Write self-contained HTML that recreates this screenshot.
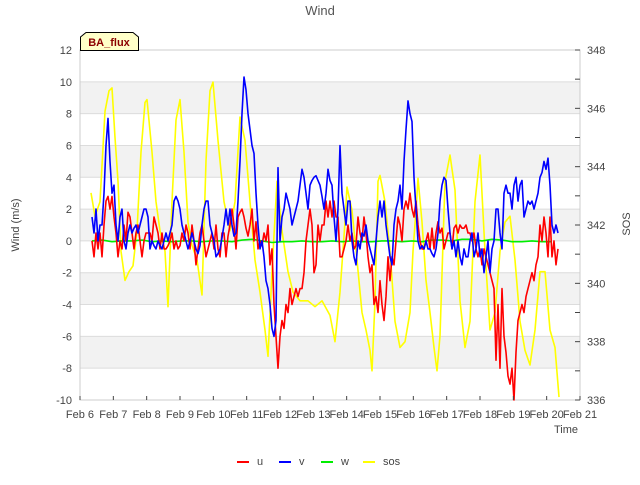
<!DOCTYPE html>
<html><head><meta charset="utf-8"><style>
body{margin:0;background:#fff;}
svg text{font-family:"Liberation Sans",sans-serif;}
</style></head><body>
<svg id="chart" width="640" height="480" xmlns="http://www.w3.org/2000/svg">
<text x="320" y="15" text-anchor="middle" font-size="13" fill="#555">Wind</text>
<g id="bands"></g>
<rect x="80" y="50" width="500" height="350" fill="none" stroke="#ccc"/>
<g id="series"></g>
<g id="axes"></g>
<text x="19" y="225" transform="rotate(-90 19 225)" text-anchor="middle" font-size="11" fill="#444">Wind (m/s)</text>
<text x="630" y="224" transform="rotate(-90 630 224)" text-anchor="middle" font-size="11" fill="#444">SOS</text>
<text x="578" y="433" text-anchor="end" font-size="11" fill="#444">Time</text>
<g>
<path d="M80.5,50.5 V37 L86,32.5 H133 L138.5,37 V50.5 Z" fill="#ffffc8" stroke="#000"/>
<text x="109" y="46" text-anchor="middle" font-size="11" font-weight="bold" fill="#8b0000">BA_flux</text>
</g>
<g id="legend"></g>
</svg>
<script>
const uStart = 6.36, uStep = 0.06;
const uVals = [0,-1,0.5,-0.5,0.5,-1,1,2.5,2.8,2,2.8,1.5,0.5,-1,0,-0.5,1,0,1.8,1.5,0.5,-0.5,0.5,1,0,-1,0,0.5,0.5,0.5,0,1.5,1,0.5,-0.5,0.5,-0.5,-0.5,-0.3,0,0.5,-0.5,0,-0.5,-0.3,0.5,0,1,0.5,-0.5,1,0,-1.5,-0.5,0.5,1,0,-1,-0.5,0,0.5,-0.5,1,-0.5,-1,0.5,0.5,-1,0.3,1,2,1,-0.5,1.5,1.8,2,1.5,0.8,0.3,1,2,0,1.2,-0.5,0,-0.3,0.5,0,1,-1.5,-0.5,-4,-6,-8,-6,-5,-5.5,-4,-4.5,-3,-4,-3.5,-3,-3.5,-3,-3,-2,0,1,2,1,-2,-1.5,1,0,1,1,2.5,1.5,2.5,1.5,2.5,1.5,1.5,-1,-1,-0.5,0,1,0,0.5,-0.5,-0.3,1.5,0.5,0,1.5,0.5,-1,-2,-1.5,-4,-3.5,-4.5,-2.5,-4,-5,-3.5,-1,-2.5,-1,-1.5,0,1.5,1,0,2,2.5,2,3,2,1.5,2.5,1,0,-0.5,-0.5,0,0.5,-0.5,0.8,-0.5,0.5,1.2,0.5,0.8,-0.5,0,0.5,0.5,-0.5,0.8,1,0.5,1,0.8,0.8,1,0.5,0.5,0,0.5,-0.5,-1,-0.5,-1.5,-0.5,-1,-1.5,-2,-2.5,-3,-7.5,-4,-8,-3,-6,-7,-8.5,-9,-8,-10,-7,-5,-4.5,-4,-4.5,-3.5,-3,-2.5,-2,-2.5,-1.5,-1,1,0,1.5,0.5,-1,1.5,-1,0,-1.5,-0.5];
const vStart = 6.36, vStep = 0.06;
const vVals = [1.5,0.5,2,0,1,1,3,6,7.7,5,3,3.5,1,0,1.5,2,0,-0.5,0.5,1,0.5,0.8,1,0.5,1,1.5,2,2,1.5,-0.5,0,-0.3,-0.5,0,-0.3,-0.5,0,0.5,0,0.5,1,2.5,2.8,2.5,2,1,0.5,0,-0.5,0,0.5,0,-0.5,-0.8,-0.3,1,2,2.5,2.5,1,0.5,0,-1,-0.8,-0.5,0.2,1,2,1,2,1,0.3,0.5,2.5,5,8,10.3,9.5,8,7,6,5.5,3,1,-0.5,0,-1,-2.5,-3,-4,-5.5,-6,-5,4.6,0,1.5,2,3,2.5,2,1,1.5,2,2.5,3.5,4.5,4,3,2,3.5,3.8,4,4.1,3.8,3.5,2.8,2,3,4.5,3.8,3.5,1.5,0,2,6,3,2,1,2.5,2.5,0,-1,-1.5,0,-0.5,0.5,0.3,1,0,-0.5,-1,-1.5,0,1.5,2.5,1.5,2.5,1,0,-1,-1.5,1,2,2.5,3.5,2,5,7,8.8,8,7.5,4,2,0,-0.5,-0.3,-0.5,0,-0.5,-0.5,-0.8,-1,-0.5,0.5,2.5,3.5,4,3.8,2,0.5,-0.5,0,-1,0,-1,-1.5,-0.5,-1,-1,0,0.5,-1,-0.5,0.5,-1,-0.5,-2,-1,0,-2,-0.5,0,2,2,0.5,-0.5,3,3.5,3,3,2,3.5,4,2.5,3.5,3.8,1.5,2,2.5,2.3,2.5,2,2.5,3,4,4.3,5,4.5,5.2,3.5,1,0.5,1,0.5];
const wStart = 6.36, wStep = 0.3;
const wVals = [0,0.05,-0.05,0,0,0.05,-0.05,0,-0.05,0,0,-0.05,0,0,-0.05,0.05,0.1,0,-0.1,-0.05,-0.05,0,-0.05,-0.05,0,-0.05,0,-0.05,-0.05,0,0,-0.05,0,-0.05,0.05,0.05,0,0.1,0.1,0,0.1,0.05,-0.05,-0.05,0,-0.05,-0.05];
const sosTimes = [6.33,6.45,6.60,6.75,6.87,6.96,7.05,7.14,7.23,7.35,7.47,7.59,7.71,7.83,7.95,8.01,8.16,8.28,8.40,8.55,8.64,8.76,8.88,9.00,9.12,9.24,9.36,9.51,9.66,9.78,9.90,9.99,10.14,10.32,10.50,10.65,10.80,10.95,11.10,11.25,11.40,11.55,11.64,11.76,11.91,12.06,12.24,12.39,12.60,12.84,13.05,13.26,13.50,13.65,13.80,13.95,14.01,14.16,14.31,14.46,14.58,14.70,14.76,14.85,14.94,15.00,15.15,15.30,15.45,15.60,15.75,15.90,15.99,16.08,16.14,16.26,16.38,16.50,16.62,16.71,16.80,16.95,17.10,17.25,17.40,17.55,17.70,17.85,18.00,18.15,18.30,18.45,18.60,18.75,18.90,19.05,19.20,19.35,19.50,19.65,19.80,19.95,20.10,20.25,20.37];
const sosVals = [343.1,342.3,342.8,345.9,346.6,346.7,345.0,343.5,341.1,340.1,340.4,340.6,341.8,344.5,346.2,346.3,344.5,342.8,341.8,341.1,339.2,342.8,345.6,346.3,344.5,342.1,341.3,340.8,339.6,344.2,346.6,346.9,344.9,342.8,341.8,342.8,345.7,344.9,342.8,340.8,339.7,338.4,337.5,340.4,343.5,341.8,340.4,339.7,339.4,339.4,339.2,339.4,338.9,338.0,339.7,342.1,343.3,342.5,340.8,339.0,338.4,337.7,337.0,339.4,343.5,343.7,342.8,341.1,338.7,337.8,338.0,339.0,341.1,342.5,343.6,342.1,340.1,339.0,337.8,337.0,338.2,343.5,344.4,343.2,339.4,337.8,338.7,342.8,344.4,341.1,338.4,339.0,341.1,342.1,342.3,340.8,338.7,337.7,337.2,338.4,340.4,340.4,338.4,337.8,336.1];
const xTicks = ["Feb 6","Feb 7","Feb 8","Feb 9","Feb 10","Feb 11","Feb 12","Feb 13","Feb 14","Feb 15","Feb 16","Feb 17","Feb 18","Feb 19","Feb 20","Feb 21"];
const yTicks = [-10,-8,-6,-4,-2,0,2,4,6,8,10,12];
const y2Ticks = [336,338,340,342,344,346,348];

const NS="http://www.w3.org/2000/svg";
const X0=80,X1=580,Y0=400,Y1=50;
const xs=t=>X0+(t-6)/15*(X1-X0);
const ys=v=>Y0-(v+10)/22*(Y0-Y1);
const y2s=v=>Y0-(v-336)/12*(Y0-Y1);
function mk(tag,attrs,parent){const e=document.createElementNS(NS,tag);for(const k in attrs)e.setAttribute(k,attrs[k]);parent.appendChild(e);return e;}
const bands=document.getElementById('bands'),axes=document.getElementById('axes'),series=document.getElementById('series'),legend=document.getElementById('legend');
for(let v=-10;v<12;v+=2){
  const idx=(v+10)/2;
  if(idx%2===1||v===-8||v===-4||v===0||v===4||v===8){}
}
[[-8,-6],[-4,-2],[0,2],[4,6],[8,10]].forEach(b=>{
  const r=mk('rect',{x:X0,y:ys(b[1]),width:X1-X0,height:ys(b[0])-ys(b[1]),fill:'#f2f2f2'},bands);
  
  
});
yTicks.forEach(v=>{
  const l=mk('line',{x1:X0,x2:X1,y1:ys(v),y2:ys(v),stroke:'#dcdcdc'},bands);
  
  
  const t=mk('text',{x:72,y:ys(v)+4,'text-anchor':'end','font-size':11,fill:'#444'},axes);
  t.textContent=v;
  
  
});
y2Ticks.forEach(v=>{
  const t=mk('text',{x:587,y:y2s(v)+4,'font-size':11,fill:'#444'},axes);
  t.textContent=v;
  
  
});
for(let v=336;v<=348;v++){
  const l=mk('line',{x1:X1-5,x2:X1,y1:y2s(v),y2:y2s(v),stroke:'#444'},axes);
  
  
}
xTicks.forEach((s,i)=>{
  const l=mk('line',{x1:xs(6+i),x2:xs(6+i),y1:Y0,y2:Y0-4,stroke:'#444'},axes);
  
  
  const t=mk('text',{x:xs(6+i),y:418,'text-anchor':'middle','font-size':11,fill:'#444'},axes);
  t.textContent=s;
  
  
});
function line(pts,color,name){
  const p=mk('polyline',{points:pts.map(q=>q[0].toFixed(1)+','+q[1].toFixed(1)).join(' '),fill:'none',stroke:color,'stroke-width':1.6,'stroke-linejoin':'round'},series);
  
  
}
line(sosVals.map((v,i)=>[xs(sosTimes[i]),y2s(v)]),'#ffff00','sos-line');
line(wVals.map((v,i)=>[xs(wStart+i*wStep),ys(v)]),'#00ee00','w-line');
line(uVals.map((v,i)=>[xs(uStart+i*uStep),ys(v)]),'#ff0000','u-line');
line(vVals.map((v,i)=>[xs(vStart+i*vStep),ys(v)]),'#0000ff','v-line');
[['u','#ff0000',237],['v','#0000ff',279],['w','#00ee00',321],['sos','#ffff00',363]].forEach(e=>{
  const g=mk('g',{},legend);
  
  
  mk('line',{x1:e[2],x2:e[2]+12,y1:462,y2:462,stroke:e[1],'stroke-width':2},g);
  const t=mk('text',{x:e[2]+20,y:465,'font-size':11,fill:'#444'},g);
  t.textContent=e[0];
});
</script>
</body></html>
